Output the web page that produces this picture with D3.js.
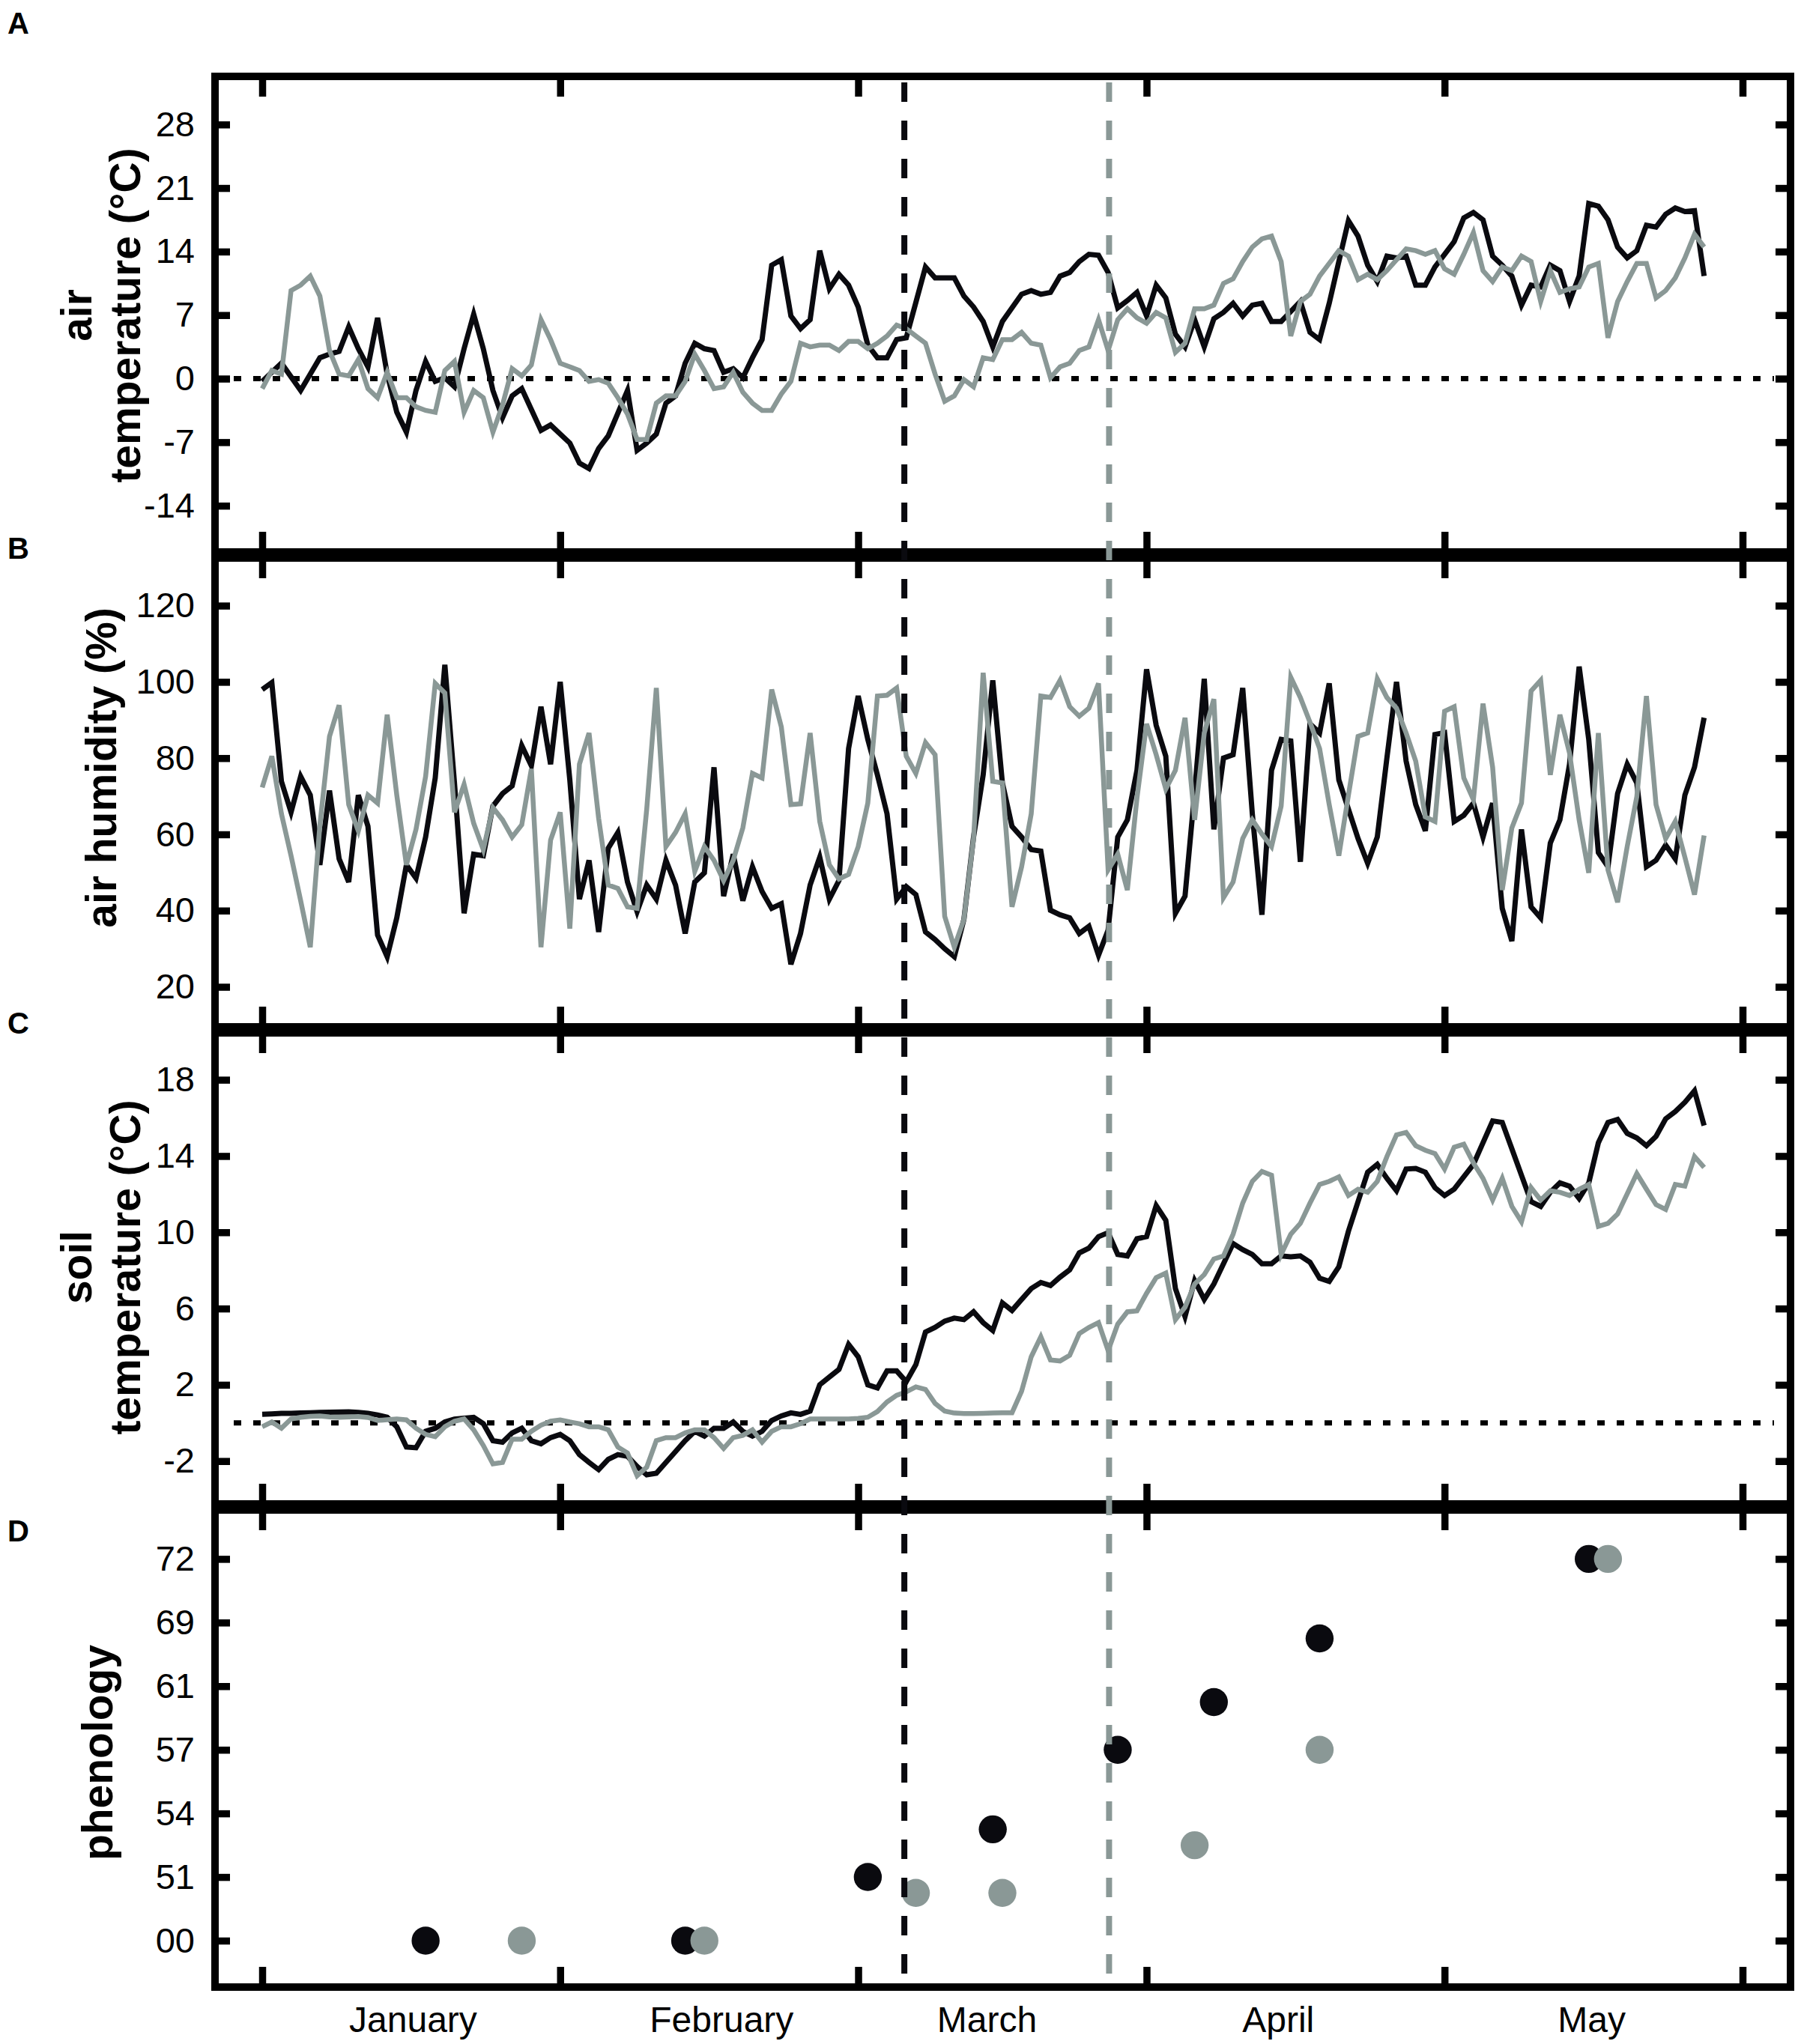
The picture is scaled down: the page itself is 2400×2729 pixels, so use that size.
<!DOCTYPE html>
<html>
<head>
<meta charset="utf-8">
<script src="https://cdn.jsdelivr.net/npm/d3@7"></script>
<style>
  body { margin: 0; background: #fff; }
  svg { display: block; }
</style>
</head>
<body>
<div class="chart"></div>
<script>
// x axis: day index counted from 1 January
const monthTickDays = [0, 31, 62, 92, 123, 154];
const monthLabels = ["January", "February", "March", "April", "May"];
const monthLabelDays = [15.7, 47.8, 75.4, 105.7, 138.3];

// vertical dashed marker days (black, gray)
const markerDays = [66.8, 88.1];

// tick labels
const airTempTicks = [-14, -7, 0, 7, 14, 21, 28];
const humidityTicks = [20, 40, 60, 80, 100, 120];
const soilTempTicks = [-2, 2, 6, 10, 14, 18];
const stageLabels = ["00", "51", "54", "57", "61", "69", "72"];

// daily air temperature (°C)
const airTempBlack = [-0.3,0.7,1.7,0.2,-1.3,0.5,2.3,2.7,3.0,5.7,
  3.3,1.3,6.7,0.5,-3.7,-5.9,-1.3,1.9,-0.3,0.1,
  -0.9,3.3,7.1,3.3,-1.3,-4.3,-1.9,-1.1,-3.4,-5.7,
  -5.1,-6.1,-7.1,-9.3,-9.9,-7.7,-6.3,-3.8,-1.3,-7.9,
  -7.1,-6.1,-2.7,-1.9,1.7,3.9,3.3,3.1,0.7,1.1,
  0.1,2.3,4.3,12.5,13.1,6.9,5.5,6.5,14.1,9.9,
  11.5,10.3,7.9,3.7,2.3,2.3,4.3,4.5,8.4,12.3,
  11.1,11.1,11.1,9.1,7.9,6.3,3.5,6.3,7.8,9.3,
  9.7,9.3,9.5,11.3,11.7,12.9,13.7,13.6,11.7,7.8,
  8.6,9.5,6.9,10.3,8.9,4.9,3.5,6.5,3.5,6.6,
  7.3,8.3,6.9,8.1,8.3,6.3,6.3,7.4,8.5,5.1,
  4.3,8.3,12.9,17.4,15.7,12.5,10.7,13.5,13.3,13.5,
  10.3,10.3,12.3,13.7,15.1,17.7,18.3,17.5,13.5,12.5,
  11.3,8.1,10.3,10.1,12.5,11.9,8.5,11.3,19.3,19.0,
  17.5,14.5,13.3,14.1,16.9,16.7,18.1,18.8,18.4,18.5,
  11.3];
const airTempGray = [-1.1,0.9,0.5,9.7,10.3,11.3,9.1,3.1,0.5,0.3,
  2.1,-1.1,-2.1,0.7,-2.1,-2.1,-3.1,-3.5,-3.7,0.9,
  1.9,-3.7,-1.3,-2.1,-5.9,-2.9,1.1,0.3,1.5,6.5,
  4.3,1.7,1.3,0.9,-0.3,-0.1,-0.5,-2.1,-3.9,-6.7,
  -6.7,-2.7,-1.9,-1.9,-0.3,2.7,0.9,-1.1,-0.9,0.7,
  -1.5,-2.7,-3.5,-3.5,-1.7,-0.3,3.9,3.5,3.7,3.7,
  3.1,4.1,4.1,3.3,3.9,4.7,5.9,5.5,4.7,3.9,
  0.5,-2.5,-1.9,-0.1,-0.9,2.3,2.1,4.3,4.3,5.1,
  3.9,3.7,0.1,1.3,1.7,3.1,3.5,6.5,3.1,6.5,
  7.7,6.7,6.1,7.3,6.7,2.9,3.9,7.7,7.7,8.1,
  10.5,11.0,12.9,14.5,15.4,15.7,12.9,4.7,8.5,9.3,
  11.3,12.7,14.1,13.5,10.9,11.5,10.9,11.9,13.1,14.3,
  14.1,13.7,14.1,12.1,11.5,13.7,16.1,11.9,10.7,12.3,
  11.9,13.5,12.9,8.5,11.9,9.5,9.9,10.1,12.3,12.7,
  4.5,8.5,10.7,12.7,12.7,8.9,9.7,11.1,13.3,15.9,
  14.5];

// daily air humidity (%)
const humidityBlack = [98,99.8,73.9,65.8,75.2,70.3,52,71.5,53.6,47.5,
  70.3,62.1,33.6,27.9,38.1,52,48.5,59.3,74.8,104.5,
  73.5,39.3,54.8,54.4,67.4,70.7,72.7,83.3,78,93.5,
  78.4,100,74.3,43,53.2,34.4,56.4,60.5,47.5,39.7,
  46.7,43,53.2,46.7,34,47.5,49.9,77.6,43.8,54.8,
  42.6,51.5,45,40.6,41.8,25.9,34,46.7,54,43,
  47.9,82.5,96.3,84.9,75.6,65.4,43,46.3,44.2,34.4,
  32.4,30,27.9,37.7,59.3,75.6,100.4,73.5,62.1,59.3,
  56,55.6,40.1,38.9,38.1,34,35.9,28.3,34.9,59.3,
  63.8,76.8,103.3,88.6,80.5,39.3,43.8,71.1,100.8,61.3,
  80,80.9,98.4,65.4,38.9,76.8,84.9,84.5,52.8,89,
  86.6,99.6,74.3,66.6,58.9,52.4,59.3,80,100,79.2,
  67.8,60.9,86.2,86.7,63.4,65,68.2,59.3,68.2,40.6,
  32,61.3,41,38.1,57.7,63.8,78.4,104,84.9,55.2,
  51.5,70.7,78.4,73.5,51.5,53.2,57.2,53.6,70.3,77.6,
  90.6];
const humidityGray = [72.3,80.5,65.4,54.4,42.6,30.4,62.5,85.7,93.9,67.8,
  60.9,70.3,68.2,91.4,70.3,52,61.3,75.2,99.6,97.1,
  65.8,73.1,62.9,56,67,63.8,59.3,62.5,77.2,30.4,
  58.5,65.8,35.3,78.4,86.6,64.2,46.7,45.8,41,40.6,
  66.6,98.4,56.8,60.5,65.4,50.3,56.8,53.2,47.9,53.2,
  61.7,76,74.8,98,88.2,67.8,68,86.6,63.4,52,
  48.3,49.5,56.8,68.2,96.3,96.5,98.4,80.5,76,84.1,
  80.9,38.5,30.4,37.7,58.9,102.4,73.9,73.5,41,51.5,
  65.4,96.3,95.9,100.4,93.5,91,93.1,99.6,50.7,54.8,
  45.4,69.5,89,80.9,71.9,76.8,90.6,63.8,86.6,95.5,
  43.4,47.5,58.9,63.8,60.1,56.8,67.4,101.2,95.9,89.4,
  82.5,67.8,54.4,70.3,85.7,86.6,100.8,95.9,93.1,86.6,
  79.2,64.6,63.4,92.3,93.5,74.8,69.1,94.3,77.6,45.4,
  61.7,68.2,97.6,100.4,75.6,91.4,81.3,63.8,49.9,86.6,
  50.7,42.2,56.8,69.9,96.3,67.8,58.9,63.4,54,44.2,
  59.7];

// daily soil temperature (°C)
const soilTempBlack = [0.45,0.47,0.5,0.5,0.52,0.53,0.55,0.56,0.57,0.58,
  0.55,0.5,0.42,0.3,-0.2,-1.26,-1.3,-0.44,-0.28,0.05,
  0.2,0.25,0.29,-0.04,-0.93,-1.01,-0.52,-0.28,-0.93,-1.09,
  -0.77,-0.6,-0.93,-1.66,-2.07,-2.45,-1.91,-1.66,-1.75,-2.28,
  -2.72,-2.64,-2.07,-1.5,-0.93,-0.44,-0.69,-0.28,-0.28,0.05,
  -0.44,-0.69,-0.44,0.13,0.37,0.53,0.45,0.62,2.0,2.41,
  2.81,4.12,3.47,2.0,1.84,2.73,2.73,2.16,3.06,4.77,
  5.01,5.34,5.5,5.42,5.83,5.26,4.85,6.3,5.9,6.48,
  7.05,7.37,7.21,7.65,8.03,8.92,9.17,9.77,9.98,8.84,
  8.76,9.66,9.77,11.4,10.63,7.05,5.58,7.46,6.48,7.29,
  8.35,9.41,9.09,8.84,8.35,8.35,8.76,8.71,8.76,8.43,
  7.59,7.42,8.19,10.06,11.61,13.15,13.56,12.83,12.18,13.32,
  13.35,13.15,12.34,11.93,12.26,12.91,13.56,14.7,15.84,15.76,
  14.38,12.99,11.61,11.36,12.1,12.59,12.42,11.77,12.59,14.7,
  15.76,15.92,15.19,14.95,14.54,15.03,15.95,16.33,16.82,17.42,
  15.6];
const soilTempGray = [-0.2,0.05,-0.28,0.21,0.3,0.35,0.37,0.32,0.3,0.32,
  0.34,0.29,0.13,0.17,0.21,0.16,-0.28,-0.6,-0.72,-0.2,
  0.09,0.21,-0.36,-1.18,-2.15,-2.07,-0.85,-0.85,-0.44,-0.12,
  0.09,0.16,0.05,-0.04,-0.2,-0.2,-0.36,-1.26,-1.58,-2.77,
  -2.32,-0.93,-0.77,-0.77,-0.52,-0.36,-0.36,-0.77,-1.34,-0.77,
  -0.65,-0.36,-1.01,-0.44,-0.2,-0.2,-0.04,0.21,0.21,0.21,
  0.21,0.21,0.24,0.3,0.6,1.1,1.45,1.63,1.89,1.76,
  1.02,0.62,0.52,0.49,0.49,0.5,0.52,0.53,0.53,1.67,
  3.47,4.52,3.3,3.25,3.55,4.69,5.01,5.26,3.79,5.18,
  5.83,5.88,6.8,7.62,7.86,5.42,6.07,7.29,7.78,8.6,
  8.76,9.9,11.53,12.67,13.19,12.99,8.84,9.9,10.47,11.53,
  12.51,12.67,12.91,11.93,12.26,12.1,12.67,13.97,15.11,15.24,
  14.54,14.3,14.13,13.32,14.46,14.62,13.64,12.83,11.69,12.83,
  11.36,10.55,12.34,11.69,12.18,12.1,11.93,12.26,12.51,10.31,
  10.47,10.96,12.02,13.08,12.26,11.45,11.2,12.51,12.42,13.97,
  13.4];

// phenology: day of observation and stage position (0 = "00" ... 6 = "72")
const phenoBlackDays = [17, 44, 63, 76, 89, 99, 110, 138];
const phenoBlackStage = [0, 0, 1, 1.75, 3, 3.75, 4.75, 6];
const phenoGrayDays = [27, 46, 68, 77, 97, 110, 140];
const phenoGrayStage = [0, 0, 0.75, 0.75, 1.5, 3, 6];

const colors = { black: "#0a0a0f", gray: "#8a9896" };
const fontFamily = "'Liberation Sans', Arial, Helvetica, sans-serif";

const chart = {};
chart.width = 2400;
chart.height = 2729;
chart.left = 287;
chart.right = 2390;

const x = d3.scaleLinear().domain([0, 154]).range([350, 2326]);

const panels = [
  { letter: "A", letterY: 45, top: 102, bottom: 737, domain: [-19.1, 33.3],
    ticks: airTempTicks, title: ["air", "temperature (°C)"], titleX: [122, 187], titleY: 421,
    zero: true, series: [airTempBlack, airTempGray] },
  { letter: "B", letterY: 746, top: 745, bottom: 1371, domain: [9.5, 132.5],
    ticks: humidityTicks, title: ["air humidity (%)"], titleX: [155], titleY: 1025,
    zero: false, series: [humidityBlack, humidityGray] },
  { letter: "C", letterY: 1380, top: 1379, bottom: 2008, domain: [-4.25, 20.46],
    ticks: soilTempTicks, title: ["soil", "temperature (°C)"], titleX: [122, 187], titleY: 1692,
    zero: true, series: [soilTempBlack, soilTempGray] },
  { letter: "D", letterY: 2058, top: 2016, bottom: 2653, domain: [-0.73, 6.77],
    ticks: d3.range(stageLabels.length), format: (i) => stageLabels[i],
    title: ["phenology"], titleX: [150], titleY: 2340, zero: false, series: [] },
];

chart.svg = d3
  .select(".chart")
  .append("svg")
  .attr("width", chart.width)
  .attr("height", chart.height)
  .attr("viewBox", [0, 0, chart.width, chart.height]);

// style axis groups: no domain path, thick ticks, big labels
const styleAxis = (g) => {
  g.select(".domain").remove();
  g.selectAll("line").attr("stroke", "#000").attr("stroke-width", 9.5);
  g.selectAll("text")
    .attr("fill", "#000")
    .attr("font-size", 47)
    .attr("font-family", fontFamily);
};

panels.forEach((p) => {
  const y = d3.scaleLinear().domain(p.domain).range([p.bottom, p.top]);
  const g = chart.svg.append("g").attr("class", `panel panel-${p.letter}`);

  // y ticks left (with labels, plain hyphen minus) and right
  g.append("g")
    .attr("transform", `translate(${chart.left},0)`)
    .call(
      d3.axisLeft(y).tickValues(p.ticks).tickSize(-20).tickPadding(27)
        .tickFormat(p.format || ((d) => String(d)))
    )
    .call(styleAxis);
  g.append("g")
    .attr("transform", `translate(${chart.right},0)`)
    .call(d3.axisRight(y).tickValues(p.ticks).tickSize(-20).tickFormat(() => ""))
    .call(styleAxis);

  // month ticks at top and bottom of every panel
  g.append("g")
    .attr("transform", `translate(0,${p.top})`)
    .call(d3.axisTop(x).tickValues(monthTickDays).tickSize(-27).tickFormat(() => ""))
    .call(styleAxis);
  g.append("g")
    .attr("transform", `translate(0,${p.bottom})`)
    .call(d3.axisBottom(x).tickValues(monthTickDays).tickSize(-27).tickFormat(() => ""))
    .call(styleAxis);

  // dotted zero line
  if (p.zero) {
    g.append("line")
      .attr("x1", 312)
      .attr("x2", 2368)
      .attr("y1", y(0))
      .attr("y2", y(0))
      .attr("stroke", "#000")
      .attr("stroke-width", 7)
      .attr("stroke-dasharray", "10,16");
  }

  // data lines, black first so gray sits on top
  const line = d3
    .line()
    .x((d, i) => x(i))
    .y((d) => y(d));
  p.series.forEach((values, k) => {
    g.append("path")
      .datum(values)
      .attr("fill", "none")
      .attr("stroke", k === 0 ? colors.black : colors.gray)
      .attr("stroke-width", k === 0 ? 7 : 6.5)
      .attr("d", line);
  });

  // phenology dots
  if (p.letter === "D") {
    const dots = [
      { days: phenoBlackDays, stage: phenoBlackStage, color: colors.black },
      { days: phenoGrayDays, stage: phenoGrayStage, color: colors.gray },
    ];
    dots.forEach((s) => {
      g.append("g")
        .selectAll("circle")
        .data(s.days)
        .join("circle")
        .attr("cx", (d) => x(d))
        .attr("cy", (d, i) => y(s.stage[i]))
        .attr("r", 18.7)
        .attr("fill", s.color);
    });
  }

  // frame
  g.append("rect")
    .attr("x", chart.left)
    .attr("y", p.top)
    .attr("width", chart.right - chart.left)
    .attr("height", p.bottom - p.top)
    .attr("fill", "none")
    .attr("stroke", "#000")
    .attr("stroke-width", 10);

  // y axis title, rotated
  p.title.forEach((t, i) => {
    g.append("text")
      .attr("transform", `translate(${p.titleX[i]},${p.titleY}) rotate(-90)`)
      .attr("text-anchor", "middle")
      .attr("font-family", fontFamily)
      .attr("font-weight", "bold")
      .attr("font-size", 57)
      .attr("fill", "#000")
      .text(t);
  });

  // panel letter
  g.append("text")
    .attr("x", 10)
    .attr("y", p.letterY)
    .attr("font-family", fontFamily)
    .attr("font-weight", "bold")
    .attr("font-size", 40)
    .attr("fill", "#000")
    .text(p.letter);
});

// month names under the last panel
chart.svg
  .append("g")
  .selectAll("text")
  .data(monthLabels)
  .join("text")
  .attr("x", (d, i) => x(monthLabelDays[i]))
  .attr("y", 2713)
  .attr("text-anchor", "middle")
  .attr("font-family", fontFamily)
  .attr("font-size", 48)
  .attr("fill", "#000")
  .text((d) => d);

// dashed marker lines across all panels
chart.svg
  .append("g")
  .selectAll("line")
  .data(markerDays)
  .join("line")
  .attr("x1", (d) => x(d))
  .attr("x2", (d) => x(d))
  .attr("y1", 110)
  .attr("y2", 2660)
  .attr("stroke", (d, i) => (i === 0 ? colors.black : colors.gray))
  .attr("stroke-width", 8)
  .attr("stroke-dasharray", "26,25");
</script>
</body>
</html>
